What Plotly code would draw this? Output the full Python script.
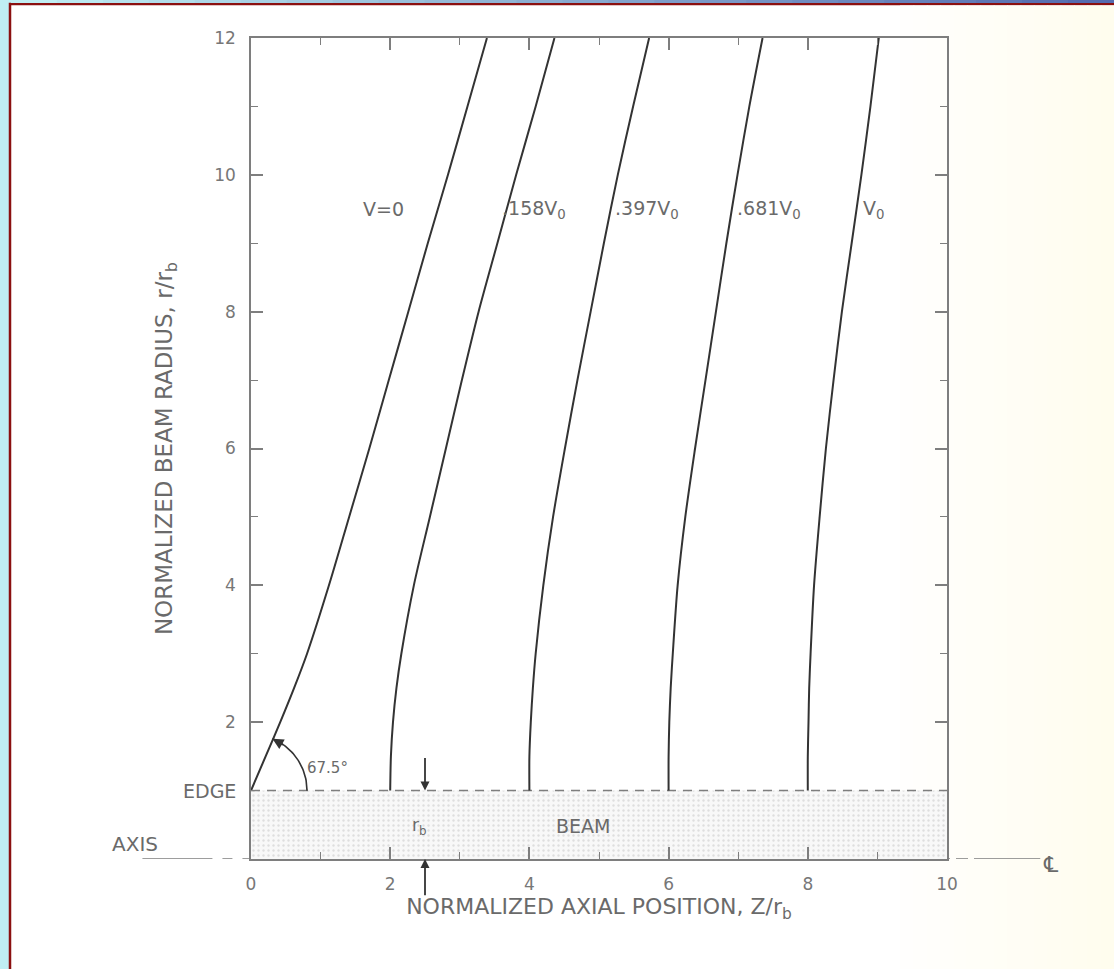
import numpy as np
import plotly.graph_objects as go

# ---------------- data ----------------
r_levels = [1.0, 1.5, 2.0, 2.5, 3.0, 4.0, 5.0, 6.0, 7.0, 8.0, 9.0, 10.0, 11.0, 12.0]
z_v0 = [0.00, 0.21, 0.42, 0.62, 0.805, 1.12, 1.41, 1.70, 1.98, 2.26, 2.54, 2.83, 3.11, 3.39]
z_158 = [2.00, 2.01, 2.04, 2.09, 2.16, 2.34, 2.57, 2.80, 3.03, 3.27, 3.54, 3.81, 4.09, 4.36]
z_397 = [4.00, 4.00, 4.02, 4.05, 4.09, 4.20, 4.34, 4.51, 4.69, 4.88, 5.07, 5.27, 5.49, 5.72]
z_681 = [6.00, 6.00, 6.01, 6.03, 6.06, 6.13, 6.24, 6.38, 6.53, 6.68, 6.83, 6.99, 7.16, 7.35]
z_vb = [8.00, 8.00, 8.01, 8.02, 8.04, 8.09, 8.17, 8.26, 8.37, 8.49, 8.63, 8.77, 8.90, 9.02]
curves = [z_v0, z_158, z_397, z_681, z_vb]

curve_labels = ["V=0", ".158V<sub>0</sub>", ".397V<sub>0</sub>", ".681V<sub>0</sub>", "V<sub>0</sub>"]
label_z = [1.90, 3.58, 5.20, 6.95, 8.77]
label_anchor = ["center", "left", "left", "left", "left"]
label_r = 9.5

x_ticks = [0, 2, 4, 6, 8, 10]
x_minor = [1, 3, 5, 7, 9]
y_ticks = [2, 4, 6, 8, 10, 12]
y_minor = [1, 3, 5, 7, 9, 11]
x_range = [0, 10]
y_range = [0, 12]
edge_r = 1.0
axis_r = 0.0
angle_deg = 67.5

INK = "#333333"
TXT = "#6a6a6a"
AX = "#7e7e7e"
FONT = "DejaVu Sans"

W, H = 1114, 969
ML, MR, MT, MB = 251, 167, 38, 110


def paper_x(xd):
    return (xd - x_range[0]) / (x_range[1] - x_range[0])


def pxp(px):  # page pixel -> paper x
    return (px - ML) / (W - ML - MR)


def pyp(py):  # page pixel -> paper y
    return (H - MB - py) / (H - MT - MB)


fig = go.Figure()

# beam region (stippled)
fig.add_trace(go.Scatter(
    x=[x_range[0], x_range[1], x_range[1], x_range[0], x_range[0]],
    y=[axis_r, axis_r, edge_r, edge_r, axis_r],
    fill="toself", mode="none", fillcolor="#f8f8f8",
    fillpattern=dict(shape=".", fgcolor="#c4c4c4", bgcolor="#f8f8f8", size=5, solidity=0.18),
    hoverinfo="skip", showlegend=False))

# edge dashed line
fig.add_trace(go.Scatter(x=x_range, y=[edge_r, edge_r], mode="lines",
                         line=dict(color=AX, width=1.5, dash="9px,7px"),
                         hoverinfo="skip", showlegend=False))

# equipotential curves
for zc in curves:
    fig.add_trace(go.Scatter(x=zc, y=r_levels, mode="lines",
                             line=dict(color=INK, width=2, shape="spline", smoothing=0.8),
                             hoverinfo="skip", showlegend=False))

# angle arc
t = np.radians(np.linspace(0, angle_deg, 40))
rx, ry = 0.805, 0.82
fig.add_trace(go.Scatter(x=rx * np.cos(t), y=edge_r + ry * np.sin(t), mode="lines",
                         line=dict(color=INK, width=1.6), hoverinfo="skip", showlegend=False))

ann = []
for txt, zx, anc in zip(curve_labels, label_z, label_anchor):
    ann.append(dict(x=zx, y=label_r, text=txt, showarrow=False, xanchor=anc, yanchor="middle",
                    font=dict(family=FONT, size=19, color=TXT)))

# arrowhead on the arc
ta = np.radians(angle_deg)
tb = np.radians(angle_deg - 14)
ann.append(dict(x=rx * np.cos(ta), y=edge_r + ry * np.sin(ta), ax=rx * np.cos(tb), ay=edge_r + ry * np.sin(tb),
                xref="x", yref="y", axref="x", ayref="y", text="", showarrow=True,
                arrowhead=2, arrowsize=1.1, arrowwidth=2, arrowcolor=INK))
ann.append(dict(x=0.78, y=1.33, text="67.5°", showarrow=False, xanchor="left", yanchor="middle",
                font=dict(family=FONT, size=15, color=TXT)))

# r_b markers
rb_x = 2.5
ann.append(dict(x=rb_x, y=edge_r, ax=rb_x, ay=1.5, xref="x", yref="y", axref="x", ayref="y",
                text="", showarrow=True, arrowhead=2, arrowsize=1, arrowwidth=1.8, arrowcolor=INK))
ann.append(dict(x=rb_x, y=axis_r, ax=rb_x, ay=-0.55, xref="x", yref="y", axref="x", ayref="y",
                text="", showarrow=True, arrowhead=2, arrowsize=1, arrowwidth=1.8, arrowcolor=INK))
ann.append(dict(x=2.42, y=0.47, text="r<sub>b</sub>", showarrow=False,
                font=dict(family=FONT, size=17, color=TXT)))
ann.append(dict(x=4.77, y=0.48, text="BEAM", showarrow=False,
                font=dict(family=FONT, size=19, color=TXT)))

# EDGE / AXIS labels and centre-line symbol
ann.append(dict(x=paper_x(-0.18), y=edge_r, xref="paper", yref="y", text="EDGE", showarrow=False,
                xanchor="right", yanchor="middle", font=dict(family=FONT, size=19, color=TXT)))
ann.append(dict(x=paper_x(-1.67), y=axis_r, xref="paper", yref="y", text="AXIS", showarrow=False,
                xanchor="center", yanchor="bottom", yshift=1, font=dict(family=FONT, size=20, color=TXT)))
ann.append(dict(x=paper_x(11.5), y=axis_r, xref="paper", yref="y", text="℄", showarrow=False,
                xanchor="center", yanchor="middle", yshift=-5, font=dict(family=FONT, size=22, color=TXT)))

# -------- shapes: frame decoration and centre line extensions --------
shapes = []
# white inner page with dark red border on left/top
shapes.append(dict(type="rect", xref="paper", yref="paper", layer="below",
                   x0=pxp(10), x1=pxp(W + 20), y0=pyp(H + 20), y1=pyp(4),
                   fillcolor="#ffffff", line=dict(color="#8b1010", width=2.5)))
# faint cream tint towards the right side (gradient strips)
cw = np.array([255, 255, 255])
cc = np.array([255, 253, 238])
nstrip = 16
for i in range(nstrip):
    f = (i + 1) / nstrip
    c = (cw * (1 - f) + cc * f).astype(int)
    xa = 900 + (W - 900) * i / nstrip
    xb = 900 + (W - 900) * (i + 1) / nstrip + 1
    shapes.append(dict(type="rect", xref="paper", yref="paper", layer="below",
                       x0=pxp(xa), x1=pxp(xb), y0=pyp(H + 5), y1=pyp(5.5),
                       fillcolor="rgb(%d,%d,%d)" % tuple(c), line=dict(width=0)))
# top gradient band
c0 = np.array([0xc0, 0xee, 0xf3])
c1 = np.array([0x55, 0x6c, 0xb0])
nseg = 24
for i in range(nseg):
    f = i / (nseg - 1)
    c = (c0 * (1 - f) + c1 * f).astype(int)
    shapes.append(dict(type="rect", xref="paper", yref="paper", layer="below",
                       x0=pxp(11 + (W - 11) * i / nseg), x1=pxp(11 + (W - 11) * (i + 1) / nseg + 1),
                       y0=pyp(3), y1=pyp(-2),
                       fillcolor="rgb(%d,%d,%d)" % tuple(c), line=dict(width=0)))
# centre line extension outside the plot frame
shapes.append(dict(type="line", xref="paper", yref="y", x0=paper_x(-1.56), x1=paper_x(0),
                   y0=axis_r, y1=axis_r, line=dict(color=AX, width=1.5, dash="70px,10px,10px,10px")))
shapes.append(dict(type="line", xref="paper", yref="y", x0=paper_x(10), x1=paper_x(11.34),
                   y0=axis_r, y1=axis_r, line=dict(color=AX, width=1.5, dash="3px,6px,12px,6px,70px")))

fig.update_layout(
    width=W, height=H,
    margin=dict(l=ML, r=MR, t=MT, b=MB, pad=0),
    paper_bgcolor="#c0eef3",
    plot_bgcolor="rgba(0,0,0,0)",
    showlegend=False,
    annotations=ann,
    shapes=shapes,
    font=dict(family=FONT, color=TXT),
)

axis_common = dict(showline=True, linecolor=AX, linewidth=1.6, mirror="ticks", ticks="inside",
                   tickcolor=AX, tickwidth=1.6, ticklen=12, showgrid=False, zeroline=False,
                   tickfont=dict(family=FONT, size=17, color="#777777"))
fig.update_xaxes(range=x_range, tickvals=x_ticks, ticktext=[str(v) for v in x_ticks],
                 minor=dict(tickvals=x_minor, ticks="inside", ticklen=7, tickcolor=AX, tickwidth=1.4),
                 ticklabelstandoff=9,
                 title=dict(text="NORMALIZED AXIAL POSITION, Z/r<sub>b</sub>", standoff=0,
                            font=dict(family=FONT, size=22, color=TXT)),
                 **axis_common)
fig.update_yaxes(range=y_range, tickvals=y_ticks, ticktext=[str(v) for v in y_ticks],
                 minor=dict(tickvals=y_minor, ticks="inside", ticklen=7, tickcolor=AX, tickwidth=1.4),
                 ticklabelstandoff=10,
                 title=dict(text="NORMALIZED BEAM RADIUS, r/r<sub>b</sub>", standoff=35,
                            font=dict(family=FONT, size=23, color=TXT)),
                 **axis_common)

fig.write_html("out.html", config={"displayModeBar": False},
               post_script="document.body.style.margin='0';document.body.style.overflow='hidden';")
